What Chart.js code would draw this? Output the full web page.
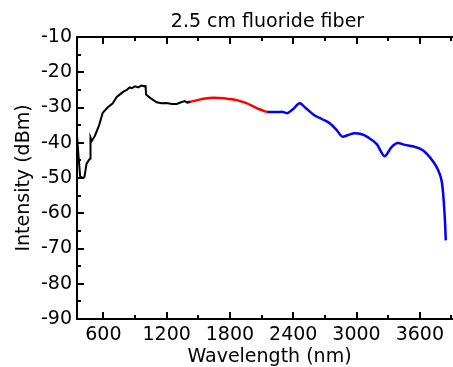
<!DOCTYPE html>
<html>
<head>
<meta charset="utf-8">
<script src="https://cdn.jsdelivr.net/npm/chart.js@4/dist/chart.umd.min.js"></script>
<style>
  html, body { margin: 0; padding: 0; background: #fff; overflow: hidden; }
  #wrap { width: 470px; height: 367px; }
</style>
</head>
<body>
<div id="wrap"><canvas id="chart"></canvas></div>
<script>
// data (wavelength nm, intensity dBm)
const blackWl = [350, 365, 380, 400, 420, 440, 460, 475, 478, 490, 520, 560, 594, 640, 689, 727, 760, 790, 822, 850, 870, 900, 930, 960, 990, 1000, 1005, 1040, 1106, 1150, 1200, 1250, 1296, 1330, 1372, 1395, 1420]
const blackDb = [-38, -44, -49.5, -50, -49.8, -46, -45, -44.5, -38.5, -39.5, -38, -35, -31.5, -30, -28.8, -27, -26.2, -25.5, -25, -24.3, -24.5, -24, -24.3, -23.8, -24, -23.9, -26.3, -27.2, -28.5, -28.8, -28.7, -29, -29, -28.6, -28.2, -28.6, -28.3]

const redWl = [1395, 1450, 1550, 1650, 1750, 1865, 1950, 2016, 2080, 2150]
const redDb = [-28.6, -28.2, -27.5, -27.2, -27.4, -27.9, -28.7, -29.6, -30.5, -31.3]

const blueWl = [2150, 2250, 2290, 2340, 2400, 2461, 2520, 2600, 2680, 2746, 2812, 2869, 2920, 2983, 3050, 3106, 3192, 3267, 3330, 3391, 3460, 3533, 3628, 3700, 3760, 3790, 3808, 3820, 3830, 3840, 3846]
const blueDb = [-31.3, -31.3, -31.2, -31.6, -30.4, -28.8, -30.2, -32.2, -33.4, -34.5, -36.4, -38.3, -37.8, -37.3, -37.6, -38.4, -40.4, -43.8, -41.3, -40.1, -40.6, -41, -42.1, -44.3, -46.9, -49, -51, -54, -58, -63, -67.7]

const xTicks = [600, 1200, 1800, 2400, 3000, 3600]
const xMinor = [900, 1500, 2100, 2700, 3300, 3900]
const yTicks = [-90, -80, -70, -60, -50, -40, -30, -20, -10]
const yMinor = [-85, -75, -65, -55, -45, -35, -25, -15]
const titleText = '2.5 cm fluoride fiber'

const toPts = (xs, ys) => xs.map((v, i) => ({ x: v, y: ys[i] }))
const font = { family: "'DejaVu Sans', sans-serif", size: 19 }

// box axes with inward ticks, drawn from the scales, plus title over the plot
const frame = {
  id: 'frame',
  afterDraw(chart) {
    const { ctx, chartArea: { left, right, top, bottom }, scales: { x, y } } = chart
    ctx.save()
    ctx.strokeStyle = '#000'
    ctx.lineWidth = 2
    ctx.beginPath()
    ctx.moveTo(right + 10, top)
    ctx.lineTo(left, top)
    ctx.lineTo(left, bottom)
    ctx.lineTo(right + 10, bottom)
    ctx.stroke()
    ctx.beginPath()
    const tick = (vals, len) => {
      for (const v of vals) {
        const px = Math.round(x.getPixelForValue(v))
        ctx.moveTo(px, bottom); ctx.lineTo(px, bottom - len)
        ctx.moveTo(px, top); ctx.lineTo(px, top + len)
      }
    }
    tick(xTicks, 7)
    tick(xMinor, 4)
    for (const v of yTicks) {
      const py = Math.round(y.getPixelForValue(v))
      ctx.moveTo(left, py); ctx.lineTo(left + 7, py)
    }
    for (const v of yMinor) {
      const py = Math.round(y.getPixelForValue(v))
      ctx.moveTo(left, py); ctx.lineTo(left + 4, py)
    }
    ctx.stroke()
    ctx.fillStyle = '#000'
    ctx.font = `19px ${font.family}`
    ctx.textAlign = 'center'
    ctx.textBaseline = 'middle'
    ctx.fillText(titleText, (left + right) / 2 - 2, 22)
    ctx.restore()
  },
}

new Chart(document.getElementById('chart'), {
  type: 'line',
  data: {
    datasets: [
      { data: toPts(blackWl, blackDb), borderColor: '#000', borderWidth: 2, tension: 0 },
      { data: toPts(redWl, redDb), borderColor: '#ff0000', borderWidth: 2.5, cubicInterpolationMode: 'monotone' },
      { data: toPts(blueWl, blueDb), borderColor: '#0000ff', borderWidth: 2.5, cubicInterpolationMode: 'monotone' },
    ],
  },
  options: {
    responsive: true,
    maintainAspectRatio: false,
    animation: false,
    layout: { padding: { right: 8, left: 0, top: 37, bottom: 0 } },
    elements: { point: { radius: 0 } },
    plugins: {
      legend: { display: false },
      tooltip: { enabled: false },
      title: { display: false },
    },
    scales: {
      x: {
        type: 'linear',
        min: 350,
        max: 4000,
        afterBuildTicks: (s) => { s.ticks = xTicks.map((v) => ({ value: v })) },
        afterFit: (s) => { s.height = 48 },
        grid: { display: false, drawTicks: false },
        border: { display: false },
        ticks: { color: '#000', font, padding: 5, maxRotation: 0, autoSkip: false, callback: (v) => String(v) },
        title: { display: true, text: 'Wavelength (nm)', color: '#000', font: { ...font, lineHeight: 1 }, padding: { top: 0, bottom: 0 } },
      },
      y: {
        min: -90,
        max: -10,
        afterBuildTicks: (s) => { s.ticks = yTicks.map((v) => ({ value: v })) },
        afterFit: (s) => { s.width = 77 },
        grid: { display: false, drawTicks: false },
        border: { display: false },
        ticks: { color: '#000', font, padding: 5, autoSkip: false, callback: (v) => String(v) },
        title: { display: true, text: 'Intensity (dBm)', color: '#000', font, padding: { top: 13, bottom: 0 } },
      },
    },
  },
  plugins: [frame],
})
</script>
</body>
</html>
